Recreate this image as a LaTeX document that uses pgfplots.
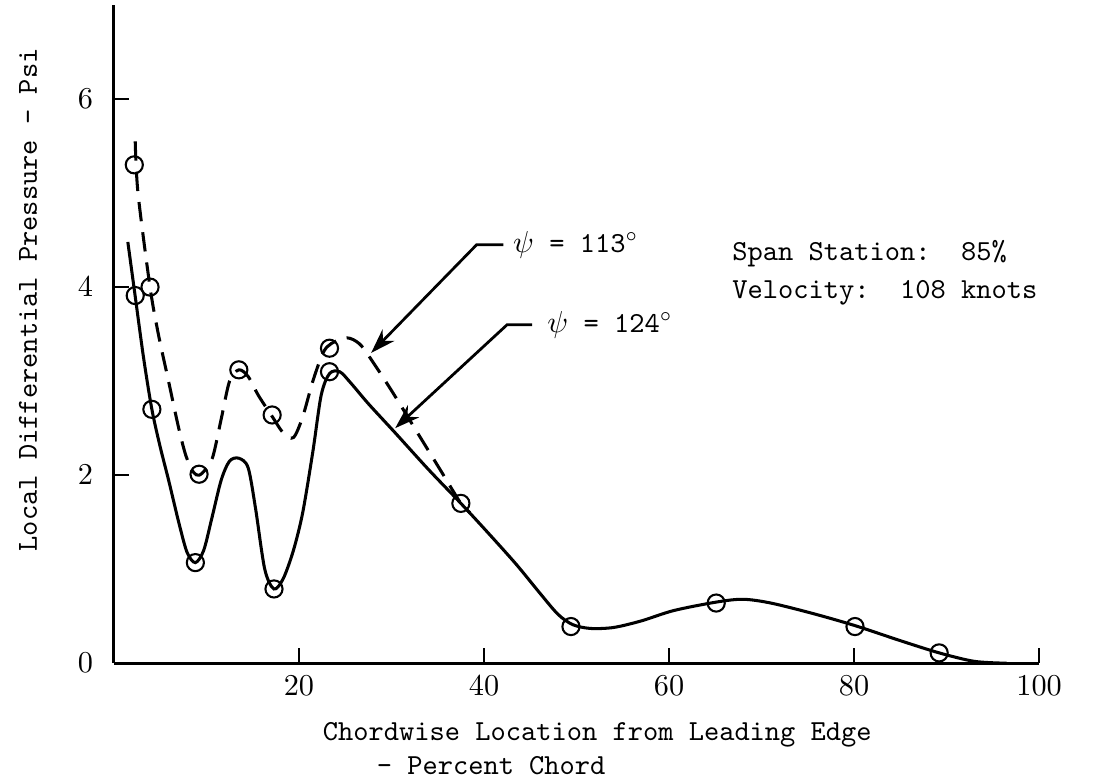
\documentclass[border=0pt]{standalone}
\usepackage{pgfplots}
\pgfplotsset{compat=1.18}
\usetikzlibrary{arrows.meta}
\begin{document}
\begin{tikzpicture}
\begin{axis}[
  scale only axis, width=334.5pt, height=238pt,
  xmin=0, xmax=100, ymin=0, ymax=7,
  axis x line*=bottom, axis y line*=left,
  axis line style={line width=1.1pt},
  xtick={20,40,60,80,100}, ytick={0,2,4,6},
  tick style={line width=0.9pt, black}, major tick length=5.5pt, tick align=inside,
  ticklabel style={font=\fontsize{10.5}{12}\selectfont},
  yticklabel style={xshift=-4pt},
  xticklabel style={yshift=-1pt},
  ylabel={Local Differential Pressure - Psi},
  ylabel style={font=\fontsize{10.5}{12}\selectfont\ttfamily, at={(rel axis cs:-0.093,0.552)}, anchor=center},
  xlabel={Chordwise Location from Leading Edge\\\hspace*{19.5pt}- Percent Chord},
  xlabel style={font=\fontsize{10.5}{12}\selectfont\ttfamily, at={(rel axis cs:0,0)}, anchor=north west, xshift=72pt, yshift=-18pt, align=left},
  clip=false,
]
% solid curve (psi = 124 deg)
\addplot[line width=1.1pt, smooth, tension=0.5] coordinates {
(1.5,4.48) (2.3,3.9) (3.2,3.25) (4.1,2.7) (5.0,2.3) (5.9,1.95) (7.0,1.5) (7.9,1.18) (8.8,1.07)
(9.7,1.2) (10.6,1.55) (11.6,1.95) (12.5,2.15) (13.5,2.18) (14.5,2.08) (15.3,1.65) (16.3,1.0) (17.3,0.79)
(18.3,0.9) (19.4,1.2) (20.4,1.6) (21.5,2.25) (22.4,2.85) (23.3,3.08) (24.4,3.1) (25.6,2.98) (27.5,2.76)
(30.4,2.45) (34,2.06) (37.5,1.7) (40.5,1.38) (43.5,1.05) (46,0.75) (48,0.52) (49.6,0.41) (51.5,0.37) (54,0.38)
(57,0.45) (60.5,0.56) (65.1,0.65) (68,0.68) (71,0.64) (75.5,0.53) (80.1,0.4) (85,0.24) (89.2,0.11) (93,0.02) (96.5,0.0)
};
% dashed curve (psi = 113 deg)
\addplot[line width=1.1pt, smooth, tension=0.5, dash pattern=on 7pt off 4pt] coordinates {
(2.3,5.55) (2.6,5.0) (3.9,4.0) (4.8,3.5) (5.9,3.0) (7.0,2.5) (7.8,2.2) (8.6,2.03) (9.2,2.0)
(9.9,2.06) (10.7,2.2) (11.6,2.6) (12.5,3.0) (13.5,3.12) (14.5,3.05) (15.6,2.85) (17.0,2.64)
(18.3,2.45) (19.4,2.4) (20.4,2.62) (21.5,3.0) (22.6,3.3) (23.5,3.4) (25.2,3.46) (26.5,3.4)
(27.6,3.26) (30,2.9) (33,2.42) (35.5,2.02) (37.5,1.7) (38.5,1.6)
};
% data circles
\addplot[only marks, mark=o, mark size=3.1pt, mark options={line width=0.75pt}] coordinates {
(2.2,5.3) (2.3,3.91) (3.9,4.0) (4.1,2.7) (8.8,1.07) (9.2,2.01) (13.5,3.12) (17.3,0.79) (17.1,2.64)
(23.3,3.35) (23.3,3.1) (37.5,1.7) (49.4,0.39) (65.1,0.64) (80.1,0.39) (89.2,0.11)
};
% annotations
\draw[line width=1pt, -{Stealth[length=9pt, width=6pt]}] (axis cs:42.1,4.45) -- (axis cs:39.2,4.45) -- (axis cs:27.8,3.3);
\draw[line width=1pt, -{Stealth[length=9pt, width=6pt]}] (axis cs:45.2,3.6) -- (axis cs:42.5,3.6) -- (axis cs:30.4,2.5);
\node[anchor=west, inner sep=0pt, font=\fontsize{10.5}{12}\selectfont\ttfamily] at (axis cs:43.1,4.45) {$\psi$ = 113$^\circ$};
\node[anchor=west, inner sep=0pt, font=\fontsize{10.5}{12}\selectfont\ttfamily] at (axis cs:46.8,3.6) {$\psi$ = 124$^\circ$};
\node[anchor=west, inner sep=0pt, font=\fontsize{10.5}{12}\selectfont\ttfamily] at (axis cs:66.8,4.36) {Span Station:\ \ 85\%};
\node[anchor=west, inner sep=0pt, font=\fontsize{10.5}{12}\selectfont\ttfamily] at (axis cs:66.8,3.94) {Velocity:\ \ 108 knots};
\end{axis}
\pgfresetboundingbox
\path[use as bounding box] ([xshift=-41.2pt, yshift=-41.6pt]current axis.south west) rectangle ([xshift=24.2pt, yshift=1.8pt]current axis.north east);
\end{tikzpicture}
\end{document}
